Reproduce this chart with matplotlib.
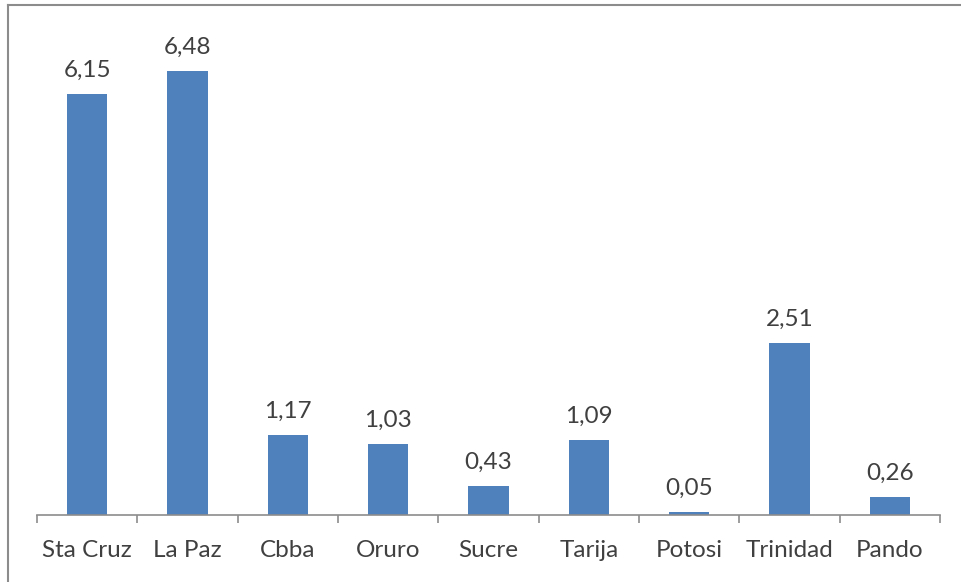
import matplotlib
matplotlib.use("Agg")
import matplotlib.pyplot as plt

categories = ["Sta Cruz", "La Paz", "Cbba", "Oruro", "Sucre", "Tarija", "Potosi", "Trinidad", "Pando"]
values = [6.15, 6.48, 1.17, 1.03, 0.43, 1.09, 0.05, 2.51, 0.26]

W, H = 961, 582
fig = plt.figure(figsize=(W / 100, H / 100), dpi=100)
fig.patch.set_facecolor("white")

# outer chart border (left and top visible)
fig.add_artist(plt.Line2D([8 / W, 8 / W], [0, 1 - 5 / H], color="#8c8c8c", lw=1.5, transform=fig.transFigure))
fig.add_artist(plt.Line2D([8 / W, 1], [1 - 5 / H, 1 - 5 / H], color="#8c8c8c", lw=1.5, transform=fig.transFigure))

x0, x1 = 37, 940
ybase, ytop = 515, 20
ax = fig.add_axes([x0 / W, 1 - ybase / H, (x1 - x0) / W, (ybase - ytop) / H])

xs = list(range(len(categories)))
ax.bar(xs, values, width=0.4, color="#4f81bd", zorder=2)

ax.set_xlim(-0.5, len(categories) - 0.5)
ax.set_ylim(0, (ybase - ytop) / 68.5)

txtcol = "#404040"
font = "Lato"
for x, v in zip(xs, values):
    ax.annotate(f"{v:.2f}".replace(".", ","), (x, v), xytext=(0, 9.5), textcoords="offset points",
                ha="center", va="bottom", fontsize=17.5, color=txtcol, family=font)

for s in ["top", "right", "left"]:
    ax.spines[s].set_visible(False)
ax.spines["bottom"].set_color("#8c8c8c")
ax.spines["bottom"].set_linewidth(1.2)
ax.set_yticks([])

ax.set_xticks([i - 0.5 for i in range(len(categories) + 1)], minor=False)
ax.set_xticklabels([])
ax.tick_params(axis="x", which="major", length=6, color="#8c8c8c", width=1.2, direction="out")
ax.set_xticks(xs, minor=True)
ax.set_xticklabels(categories, minor=True, fontsize=17.5, color=txtcol, family=font)
ax.tick_params(axis="x", which="minor", length=0, pad=18)

fig.savefig("out.png", dpi=100)
